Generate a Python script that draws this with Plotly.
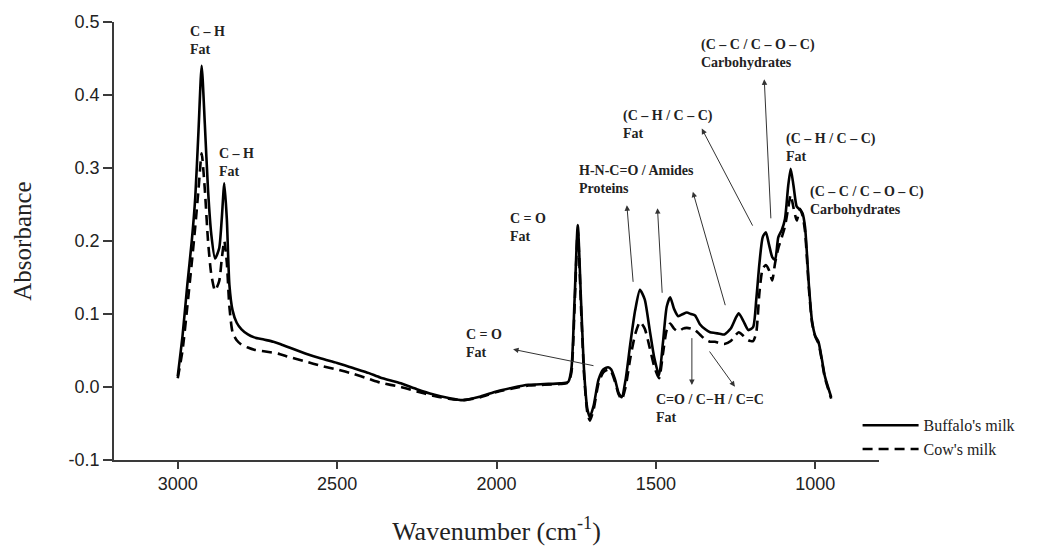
import plotly.graph_objects as go

# ---------------- data ----------------
wavenumber = [3000, 2985, 2970, 2956, 2945, 2935, 2925, 2915, 2905, 2895, 2883, 2870, 2862, 2854, 2846,
              2838, 2828, 2815, 2800, 2780, 2760, 2730, 2700, 2679, 2650, 2600, 2550, 2500, 2450, 2400,
              2365, 2300, 2250, 2200, 2150, 2105, 2050, 2000, 1950, 1900, 1850, 1800, 1775, 1765, 1755,
              1745, 1735, 1725, 1715, 1707, 1695, 1680, 1665, 1650, 1640, 1628, 1617, 1607, 1595, 1580,
              1565, 1550, 1535, 1520, 1505, 1490, 1478, 1466, 1455, 1443, 1430, 1415, 1403, 1390, 1377,
              1362, 1345, 1330, 1315, 1300, 1285, 1265, 1250, 1240, 1225, 1210, 1195, 1185, 1175, 1165,
              1155, 1145, 1135, 1126, 1116, 1105, 1095, 1085, 1077, 1068, 1058, 1048, 1040, 1032, 1020,
              1010, 1000, 990, 980, 970, 960, 950]

buffalo_milk = [0.015, 0.07, 0.14, 0.20, 0.26, 0.35, 0.44, 0.36, 0.27, 0.21, 0.176, 0.19, 0.23, 0.279, 0.23,
                0.14, 0.105, 0.088, 0.079, 0.072, 0.068, 0.065, 0.062, 0.059, 0.054, 0.046, 0.039, 0.033, 0.026, 0.019,
                0.013, 0.005, -0.003, -0.010, -0.015, -0.018, -0.013, -0.006, -0.001, 0.003, 0.004, 0.005, 0.007, 0.025, 0.12,
                0.222, 0.12, 0.02, -0.03, -0.041, -0.025, 0.01, 0.024, 0.027, 0.024, 0.01, -0.008, -0.014, 0.01, 0.06,
                0.105, 0.133, 0.12, 0.08, 0.04, 0.016, 0.06, 0.11, 0.123, 0.107, 0.097, 0.10, 0.102, 0.10, 0.098,
                0.086, 0.079, 0.075, 0.074, 0.073, 0.072, 0.08, 0.094, 0.101, 0.09, 0.078, 0.082, 0.12, 0.17, 0.205,
                0.212, 0.195, 0.178, 0.174, 0.205, 0.215, 0.23, 0.275, 0.299, 0.275, 0.247, 0.243, 0.238, 0.219, 0.14,
                0.09, 0.07, 0.062, 0.04, 0.015, 0.0, -0.014]

cow_milk = [0.012, 0.05, 0.11, 0.17, 0.22, 0.27, 0.32, 0.27, 0.20, 0.155, 0.132, 0.145, 0.175, 0.20, 0.17,
            0.11, 0.075, 0.064, 0.058, 0.054, 0.051, 0.049, 0.047, 0.045, 0.041, 0.035, 0.029, 0.024, 0.018, 0.011,
            0.006, 0.0, -0.006, -0.012, -0.016, -0.018, -0.014, -0.007, -0.002, 0.002, 0.003, 0.004, 0.006, 0.02, 0.11,
            0.215, 0.11, 0.015, -0.035, -0.046, -0.03, 0.005, 0.02, 0.024, 0.021, 0.007, -0.01, -0.017, 0.0, 0.04,
            0.072, 0.089, 0.08, 0.055, 0.028, 0.012, 0.045, 0.078, 0.087, 0.08, 0.076, 0.08, 0.081, 0.08, 0.078,
            0.072, 0.065, 0.062, 0.062, 0.06, 0.059, 0.063, 0.071, 0.075, 0.07, 0.064, 0.063, 0.075, 0.13, 0.162,
            0.167, 0.16, 0.146, 0.17, 0.19, 0.205, 0.22, 0.245, 0.263, 0.245, 0.228, 0.244, 0.235, 0.213, 0.135,
            0.088, 0.069, 0.06, 0.038, 0.013, -0.002, -0.016]

series_names = ["Buffalo's milk", "Cow's milk"]

x_tickvals = [3000, 2500, 2000, 1500, 1000]
x_ticktext = ["3000", "2500", "2000", "1500", "1000"]
y_tickvals = [-0.1, 0.0, 0.1, 0.2, 0.3, 0.4, 0.5]
y_ticktext = ["-0.1", "0.0", "0.1", "0.2", "0.3", "0.4", "0.5"]

# band labels: (text, x, y)
band_labels = [
    ("C – H<br>Fat", 2968, 0.475),
    ("C – H<br>Fat", 2877, 0.307),
    ("C = O<br>Fat", 1964, 0.218),
    ("C = O<br>Fat", 2102, 0.0596),
    ("H-N-C=O / Amides<br>Proteins", 1747, 0.284),
    ("C=O / C−H / C=C<br>Fat", 1506, -0.030),
    ("(C – H / C – C)<br>Fat", 1609, 0.360),
    ("(C – C / C – O – C)<br>Carbohydrates", 1365, 0.457),
    ("(C – H / C – C)<br>Fat", 1098, 0.328),
    ("(C – C / C – O – C)<br>Carbohydrates", 1023, 0.2555),
]

# arrows: (head_x, head_y, tail_x, tail_y)
band_arrows = [
    (1948, 0.0516, 1691, 0.0288),
    (1591, 0.249, 1571, 0.142),
    (1495, 0.245, 1480, 0.127),
    (1384, 0.2675, 1281, 0.110),
    (1387, 0.0027, 1387, 0.069),
    (1252, 0.0004, 1335, 0.0507),
    (1356, 0.354, 1194, 0.219),
    (1160, 0.4215, 1139, 0.229),
]

# ---------------- figure ----------------
AX = "#3a3a3a"
fig = go.Figure()
fig.add_trace(go.Scatter(x=wavenumber, y=buffalo_milk, mode="lines", name=series_names[0],
                         line=dict(color="black", width=2.6, shape="spline", smoothing=0.6)))
fig.add_trace(go.Scatter(x=wavenumber, y=cow_milk, mode="lines", name=series_names[1],
                         line=dict(color="black", width=2.6, dash="10px,6px", shape="spline", smoothing=0.6)))

for text, x, y in band_labels:
    lines = "<br>".join("<b>%s</b>" % s for s in text.split("<br>"))
    fig.add_annotation(x=x, y=y, xref="x", yref="y", text=lines, showarrow=False,
                       xanchor="left", yanchor="middle", align="left",
                       font=dict(family="Liberation Serif", size=14, color="#222"))

for hx, hy, tx, ty in band_arrows:
    fig.add_annotation(x=hx, y=hy, ax=tx, ay=ty, xref="x", yref="y", axref="x", ayref="y",
                       text="", showarrow=True, arrowhead=2, arrowsize=1.1, arrowwidth=1,
                       arrowcolor="#333", standoff=0, startstandoff=0)

# small extension of the x axis line to the left of the y axis
fig.add_shape(type="line", xref="paper", yref="paper", x0=-0.0105, x1=0, y0=0, y1=0,
              line=dict(color=AX, width=1.5))

fig.update_layout(
    width=1049, height=546,
    margin=dict(l=114, r=170, t=22, b=86, autoexpand=False),
    paper_bgcolor="white", plot_bgcolor="white",
    showlegend=True,
    legend=dict(x=0.972, xanchor="left", y=0.118, yanchor="top",
                bgcolor="rgba(0,0,0,0)", itemwidth=56,
                font=dict(family="Liberation Serif", size=16, color="#222"),
                tracegroupgap=0),
)
fig.update_xaxes(range=[3200, 800], tickvals=x_tickvals, ticktext=x_ticktext, automargin=False,
                 showgrid=False, zeroline=False, showline=True, linecolor=AX, linewidth=1.5,
                 ticks="outside", ticklen=7, tickcolor=AX, tickwidth=1.5,
                 tickfont=dict(family="Liberation Sans", size=18, color="#222"),
                 title=dict(text="Wavenumber (cm<sup>-1</sup>)", standoff=29,
                            font=dict(family="Liberation Serif", size=26, color="#222")))
fig.update_yaxes(range=[-0.1, 0.5], tickvals=y_tickvals, ticktext=y_ticktext, automargin=False,
                 showgrid=False, zeroline=False, showline=True, linecolor=AX, linewidth=1.5,
                 ticks="outside", ticklen=9, tickcolor=AX, tickwidth=1.5,
                 tickfont=dict(family="Liberation Sans", size=18, color="#222"),
                 title=dict(text="Absorbance", standoff=30,
                            font=dict(family="Liberation Serif", size=25, color="#222")))

fig.write_html("out.html")
